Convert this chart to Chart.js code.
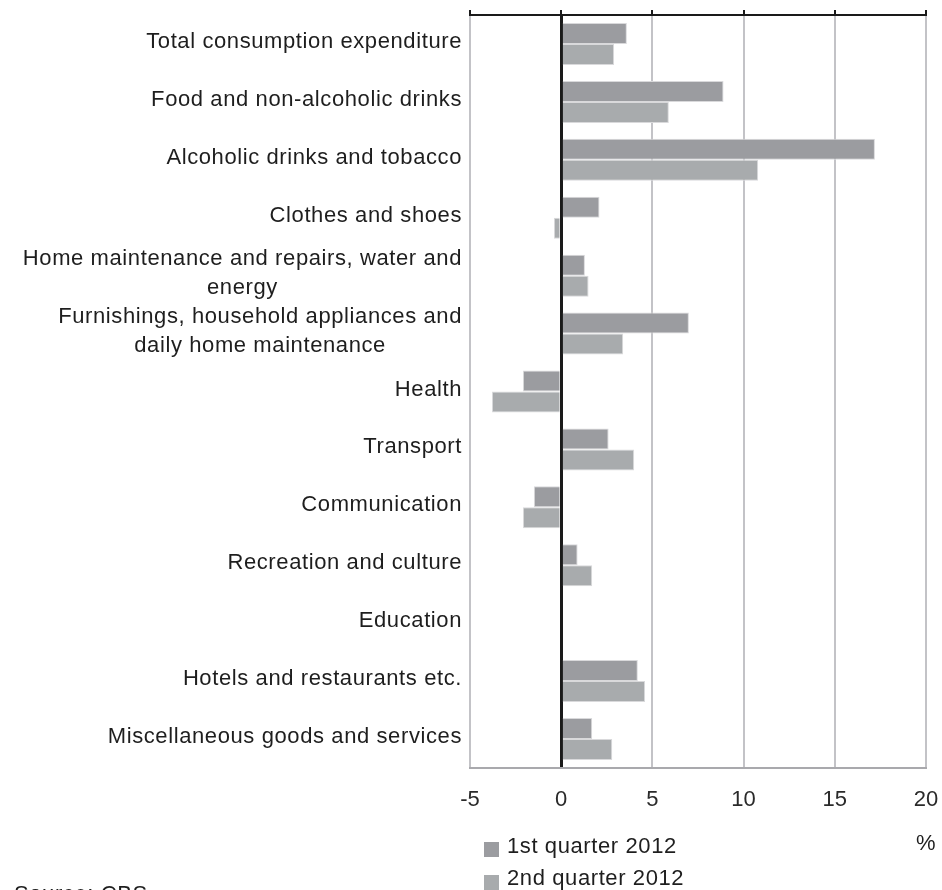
<!DOCTYPE html>
<html><head><meta charset="utf-8">
<script src="https://cdn.jsdelivr.net/npm/chart.js@4.4.1/dist/chart.umd.min.js"></script>
<style>html,body{margin:0;padding:0;background:#fff;} #wrap{width:942px;height:890px;position:relative;}</style>
</head><body><div id="wrap"><canvas id="c"></canvas></div>
<script>
const categories = [
  'Total consumption expenditure',
  'Food and non-alcoholic drinks',
  'Alcoholic drinks and tobacco',
  'Clothes and shoes',
  ['Home maintenance and repairs, water and', 'energy'],
  ['Furnishings, household appliances and', 'daily home maintenance'],
  'Health',
  'Transport',
  'Communication',
  'Recreation and culture',
  'Education',
  'Hotels and restaurants etc.',
  'Miscellaneous goods and services'
];
const q1Values = [3.6, 8.9, 17.2, 2.1, 1.3, 7.0, -2.1, 2.6, -1.5, 0.9, null, 4.2, 1.7];
const q2Values = [2.9, 5.9, 10.8, -0.4, 1.5, 3.4, -3.8, 4.0, -2.1, 1.7, null, 4.6, 2.8];
const seriesNames = ['1st quarter 2012', '2nd quarter 2012'];
const xMin = -5, xMax = 20, xStep = 5;
const unitLabel = '%';
const sourceNote = 'Source: CBS';

const FONT = '"Liberation Sans", Arial, sans-serif';
const colQ1 = '#9b9ca0';
const colQ2 = '#a8abad';

const labelPlugin = {
  id: 'customText',
  afterDraw(chart) {
    const ctx = chart.ctx;
    const ys = chart.scales.y;
    ctx.save();
    try { ctx.letterSpacing = '0.6px'; } catch (e) {}
    ctx.font = '22px ' + FONT;
    ctx.fillStyle = '#1e1e1e';
    ctx.textBaseline = 'middle';
    ctx.textAlign = 'center';
    const right = 462, lh = 29;
    chart.data.labels.forEach((lab, i) => {
      const lines = Array.isArray(lab) ? lab : [lab];
      const w = Math.max(...lines.map(l => ctx.measureText(l).width));
      const cx = right - w / 2;
      const cy = ys.getPixelForValue(i);
      lines.forEach((l, j) => ctx.fillText(l, cx, cy + (j - (lines.length - 1) / 2) * lh - 2));
    });
    // legend
    ctx.textAlign = 'left';
    chart.data.datasets.forEach((ds, i) => {
      const top = 842 + i * 33;
      ctx.fillStyle = ds.backgroundColor;
      ctx.fillRect(484, top, 15, 15);
      ctx.fillStyle = '#1e1e1e';
      ctx.fillText(ds.label, 507, top + 5 + i * -1);
    });
    // unit
    ctx.textAlign = 'center';
    ctx.fillText(unitLabel, 926, 844);
    // source
    ctx.textAlign = 'left';
    ctx.textBaseline = 'top';
    ctx.fillText(sourceNote, 14, 884);
    ctx.restore();
  }
};

new Chart(document.getElementById('c'), {
  type: 'bar',
  data: {
    labels: categories,
    datasets: [
      { label: seriesNames[0], data: q1Values, backgroundColor: colQ1, borderColor: '#d9d9db', borderWidth: 1 },
      { label: seriesNames[1], data: q2Values, backgroundColor: colQ2, borderColor: '#d9d9db', borderWidth: 1 }
    ]
  },
  options: {
    indexAxis: 'y',
    responsive: true,
    maintainAspectRatio: false,
    animation: false,
    layout: { padding: { left: 0, right: 16, top: 0, bottom: 0 } },
    datasets: { bar: { categoryPercentage: 0.725, barPercentage: 1.0 } },
    plugins: { legend: { display: false }, tooltip: { enabled: false } },
    scales: {
      y: {
        type: 'category',
        display: true,
        grid: { display: false },
        border: { display: false },
        ticks: { display: false },
        afterFit(s) { s.width = 470; }
      },
      x: {
        type: 'linear',
        position: 'bottom',
        min: xMin, max: xMax,
        ticks: { stepSize: xStep, font: { size: 22, family: FONT }, color: '#2a2a2a', padding: 19 },
        grid: {
          drawTicks: false,
          color: c => (c.tick && c.tick.value === 0) ? '#1a1a1a' : '#c3c3c7',
          lineWidth: c => (c.tick && c.tick.value === 0) ? 3 : 2
        },
        border: { color: '#a9a9ad', width: 2 },
        afterFit(s) { s.height = 122; s.paddingLeft = 0; s.paddingRight = 0; }
      },
      x2: {
        type: 'linear',
        axis: 'x',
        position: 'top',
        min: xMin, max: xMax,
        ticks: { display: false, stepSize: xStep },
        grid: { drawOnChartArea: false, drawTicks: true, tickLength: 5, color: '#1a1a1a', lineWidth: 2 },
        border: { color: '#1a1a1a', width: 2 },
        afterFit(s) { s.height = 15; s.paddingLeft = 0; s.paddingRight = 0; }
      }
    }
  },
  plugins: [labelPlugin]
});
</script>
</body></html>
